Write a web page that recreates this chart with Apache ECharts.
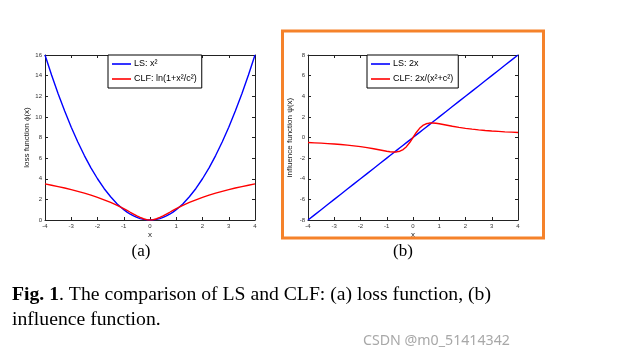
<!DOCTYPE html>
<html>
<head>
<meta charset="utf-8">
<script src="https://cdn.jsdelivr.net/npm/echarts@6/dist/echarts.min.js"></script>
<style>html,body{margin:0;padding:0;background:#fff;}#c{width:626px;height:358px;}</style>
</head>
<body>
<div id="c"></div>
<script>
// x sample positions read along the horizontal axis
var xs = [-4,-3.75,-3.5,-3.25,-3,-2.75,-2.5,-2.25,-2,-1.75,-1.5,-1.25,-1,-0.875,-0.75,-0.625,-0.5,-0.375,-0.25,-0.125,0,
          0.125,0.25,0.375,0.5,0.625,0.75,0.875,1,1.25,1.5,1.75,2,2.25,2.5,2.75,3,3.25,3.5,3.75,4];
// (a) loss function
var lsLoss  = [16,14.06,12.25,10.56,9,7.56,6.25,5.06,4,3.06,2.25,1.56,1,0.77,0.56,0.39,0.25,0.14,0.06,0.016,0,
               0.016,0.06,0.14,0.25,0.39,0.56,0.77,1,1.56,2.25,3.06,4,5.06,6.25,7.56,9,10.56,12.25,14.06,16];
var clfLoss = [3.50,3.37,3.24,3.10,2.94,2.78,2.60,2.41,2.20,1.96,1.71,1.42,1.10,0.93,0.75,0.58,0.41,0.25,0.12,0.03,0,
               0.03,0.12,0.25,0.41,0.58,0.75,0.93,1.10,1.42,1.71,1.96,2.20,2.41,2.60,2.78,2.94,3.10,3.24,3.37,3.50];
// (b) influence function
var lsInfl  = [-8,-7.5,-7,-6.5,-6,-5.5,-5,-4.5,-4,-3.5,-3,-2.5,-2,-1.75,-1.5,-1.25,-1,-0.75,-0.5,-0.25,0,
               0.25,0.5,0.75,1,1.25,1.5,1.75,2,2.5,3,3.5,4,4.5,5,5.5,6,6.5,7,7.5,8];
var clfInfl = [-0.49,-0.52,-0.55,-0.59,-0.63,-0.68,-0.74,-0.81,-0.89,-0.98,-1.09,-1.21,-1.33,-1.38,-1.41,-1.40,-1.33,-1.17,-0.89,-0.49,0,
               0.49,0.89,1.17,1.33,1.40,1.41,1.38,1.33,1.21,1.09,0.98,0.89,0.81,0.74,0.68,0.63,0.59,0.55,0.52,0.49];
var xTicks = {min:-4, max:4, interval:1};
var yTicksA = {min:0, max:16, interval:2};
var yTicksB = {min:-8, max:8, interval:2};
var names = {lsA:'LS: x²', clfA:'CLF: ln(1+x²/c²)', lsB:'LS: 2x', clfB:'CLF: 2x/(x²+c²)'};

function pairs(ys){ return xs.map(function(x,i){ return [x, ys[i]]; }); }

var FONT = 'Liberation Sans';
var axisCol = '#222';
function mkX(grid, pos, labels){
  return {type:'value', gridIndex:grid, position:pos, min:xTicks.min, max:xTicks.max, interval:xTicks.interval,
    name: labels ? 'x' : '', nameLocation:'middle', nameGap:11,
    nameTextStyle:{fontFamily:FONT, fontSize:8, color:'#222'},
    axisLine:{show:true, onZero:false, lineStyle:{color:axisCol, width:1}},
    axisTick:{show:true, inside:true, length:3, lineStyle:{color:axisCol}},
    axisLabel:{show:labels, fontFamily:FONT, fontSize:6, color:'#333', margin:3},
    splitLine:{show:false}};
}
function mkY(grid, pos, t, labels, nm){
  return {type:'value', gridIndex:grid, position:pos, min:t.min, max:t.max, interval:t.interval,
    name: labels ? nm : '', nameLocation:'middle', nameGap:14, nameRotate:90,
    nameTextStyle:{fontFamily:FONT, fontSize:8, color:'#222'},
    axisLine:{show:true, onZero:false, lineStyle:{color:axisCol, width:1}},
    axisTick:{show:true, inside:true, length:3, lineStyle:{color:axisCol}},
    axisLabel:{show:labels, fontFamily:FONT, fontSize:6, color:'#333', margin:3},
    splitLine:{show:false}};
}
function line(name, xi, yi, ys, color){
  return {type:'line', name:name, xAxisIndex:xi, yAxisIndex:yi, data:pairs(ys), showSymbol:false, symbol:'none',
    lineStyle:{color:color, width:1.4}, itemStyle:{color:color}, animation:false, z:3};
}
function legend(left, data){
  return {orient:'vertical', left:left, top:55, data:data, backgroundColor:'#fff', borderColor:'#000', borderWidth:1,
    padding:[4,5,4,4], itemGap:5, itemWidth:19, itemHeight:1.6, icon:'rect', selectedMode:false,
    textStyle:{fontFamily:FONT, fontSize:9, lineHeight:10, color:'#000', padding:[0,0,0,-2]}};
}

var chart = echarts.init(document.getElementById('c'), null, {renderer:'canvas'});
chart.setOption({
  backgroundColor:'#fff',
  animation:false,
  grid:[{left:45, top:55, width:210, height:165}, {left:308, top:55, width:210, height:165}],
  xAxis:[mkX(0,'bottom',true), mkX(0,'top',false), mkX(1,'bottom',true), mkX(1,'top',false)],
  yAxis:[mkY(0,'left',yTicksA,true,'loss function ϕ(x)'), mkY(0,'right',yTicksA,false,''),
         mkY(1,'left',yTicksB,true,'influence function ψ(x)'), mkY(1,'right',yTicksB,false,'')],
  legend:[legend(108,[names.lsA, names.clfA]), legend(367,[names.lsB, names.clfB])],
  series:[
    line(names.lsA, 0, 0, lsLoss, '#0000ff'),
    line(names.clfA, 0, 0, clfLoss, '#ff0000'),
    line(names.lsB, 2, 2, lsInfl, '#0000ff'),
    line(names.clfB, 2, 2, clfInfl, '#ff0000')
  ],
  graphic:[
    {type:'rect', shape:{x:282.5, y:31, width:261, height:207}, style:{fill:'none', stroke:'#f5822a', lineWidth:3}, z:10},
    {type:'text', x:141, y:252, style:{text:'(a)', font:'17px "Liberation Serif"', fill:'#000', textAlign:'center', textVerticalAlign:'middle'}},
    {type:'text', x:403, y:252, style:{text:'(b)', font:'17px "Liberation Serif"', fill:'#000', textAlign:'center', textVerticalAlign:'middle'}},
    {type:'text', x:12, y:305, style:{text:'{b|Fig. 1}. The comparison of LS and CLF: (a) loss function, (b)',
      font:'19.7px "Liberation Serif"', fill:'#000', textVerticalAlign:'bottom',
      rich:{b:{fontWeight:'bold', fontFamily:'Liberation Serif', fontSize:19.7}}}},
    {type:'text', x:12, y:330, style:{text:'influence function.', font:'19.7px "Liberation Serif"', fill:'#000', textVerticalAlign:'bottom'}},
    {type:'text', x:363, y:341, style:{text:'CSDN @m0_51414342', font:'14.2px "Noto Sans"', fill:'#a8a8a8', textVerticalAlign:'middle'}}
  ]
});
</script>
</body>
</html>
